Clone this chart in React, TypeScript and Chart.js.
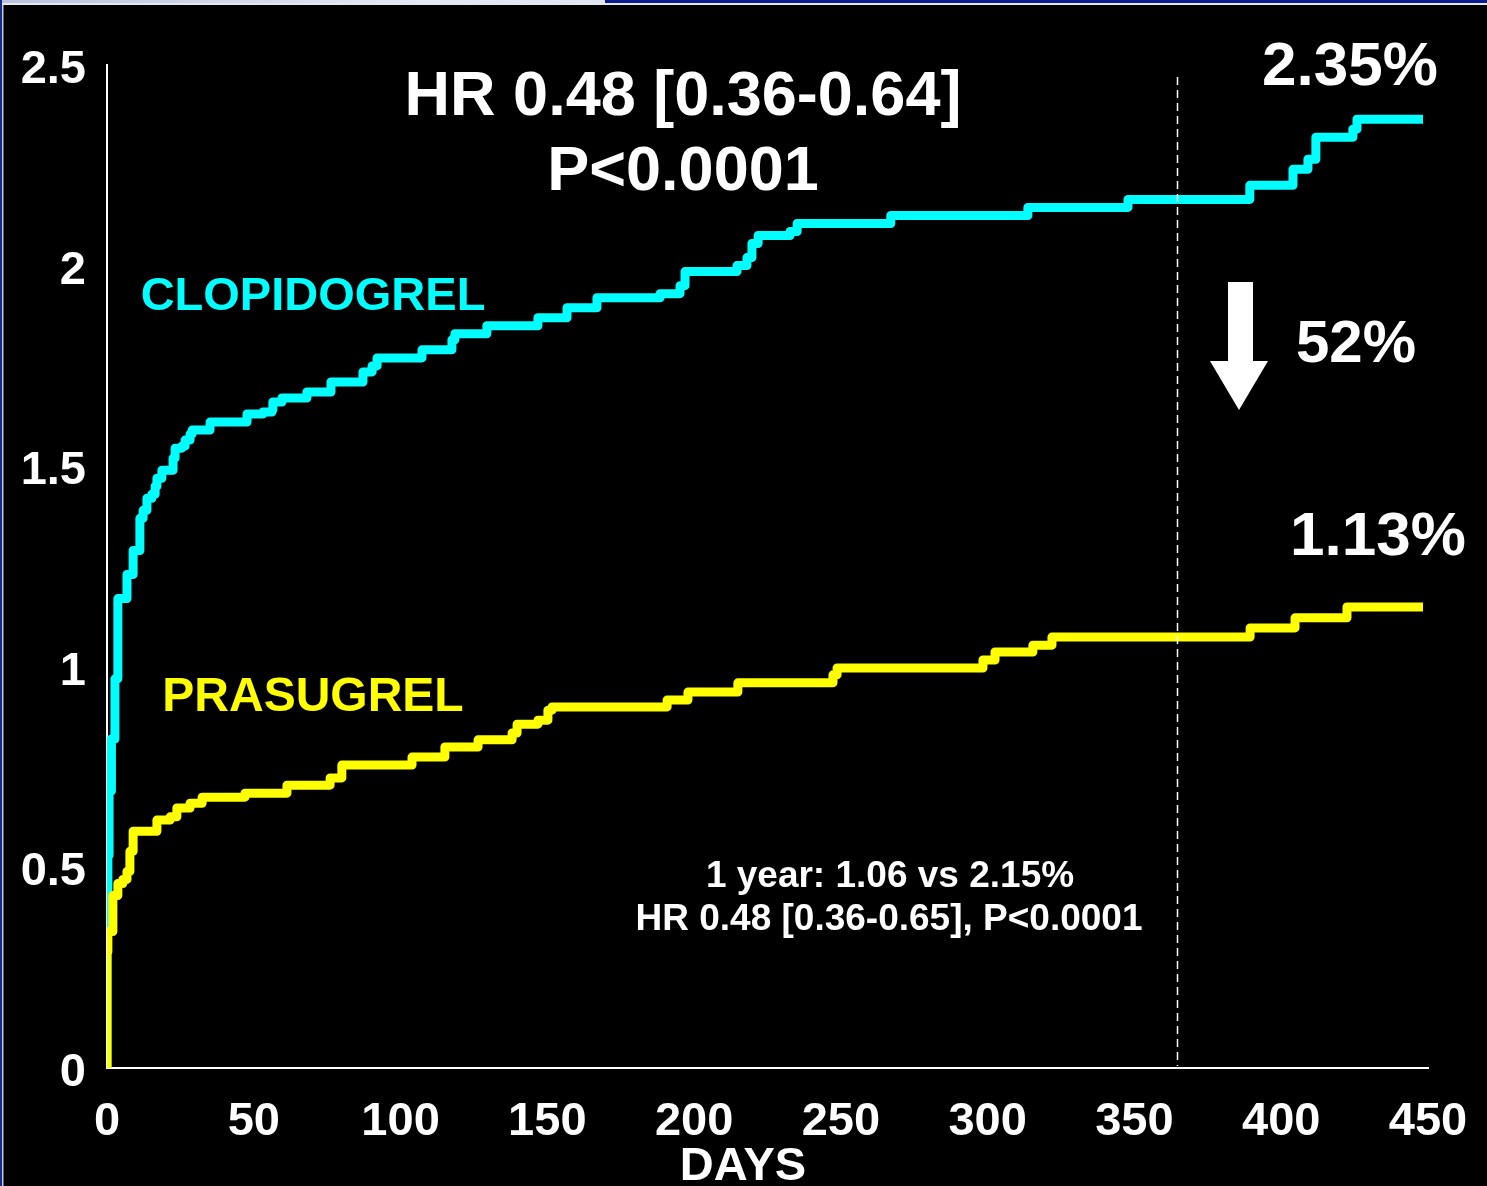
import React, { useEffect, useRef } from 'react';
import { Chart, registerables } from 'chart.js';

Chart.register(...registerables);

// ---- data ----
const clopidogrelDays = [0, 0, 0.3, 0.7, 1.5, 2.7, 3.7, 6.8, 8.9, 11.2, 12.3, 13.6, 15.3, 16.4, 17, 18.7, 22.5, 23.2, 25.5, 26.6, 28.3, 29, 35.1, 47.7, 53.1, 56.2, 56.5, 59.6, 68.1, 76.3, 87.2, 90.3, 92, 107.3, 117.5, 118.5, 129.4, 146.8, 156.7, 166.9, 188.4, 195.2, 196.9, 214.6, 218, 219.7, 221.8, 232.7, 235.1, 267, 313.7, 347.8, 389.3, 404, 409.1, 411.8, 424.4, 425.8, 448.3];
const clopidogrelRates = [0, 0.39, 0.53, 0.69, 0.82, 0.97, 1.17, 1.23, 1.29, 1.37, 1.39, 1.42, 1.43, 1.45, 1.47, 1.49, 1.52, 1.545, 1.55, 1.565, 1.58, 1.59, 1.61, 1.63, 1.635, 1.64, 1.66, 1.67, 1.685, 1.71, 1.735, 1.75, 1.77, 1.79, 1.815, 1.83, 1.85, 1.87, 1.895, 1.92, 1.93, 1.95, 1.985, 2.0, 2.02, 2.055, 2.075, 2.085, 2.105, 2.125, 2.145, 2.165, 2.2, 2.24, 2.265, 2.32, 2.34, 2.365, 2.365];

const prasugrelDays = [0, 0, 0.3, 2, 3.7, 5.4, 6.8, 7.8, 8.9, 17, 21.5, 23.8, 28.3, 32.4, 47, 61.3, 76, 80, 103.9, 115.1, 126.4, 138, 139.7, 146.8, 150.2, 151.6, 190.8, 197.9, 214.9, 247.3, 248.7, 298.4, 302.5, 315.4, 321.9, 389.4, 404.7, 422.4, 448.3];
const prasugrelRates = [0, 0.29, 0.34, 0.43, 0.46, 0.47, 0.49, 0.54, 0.59, 0.618, 0.626, 0.648, 0.66, 0.675, 0.685, 0.705, 0.723, 0.755, 0.775, 0.8, 0.818, 0.835, 0.857, 0.867, 0.892, 0.9, 0.917, 0.937, 0.96, 0.98, 0.997, 1.017, 1.037, 1.054, 1.074, 1.097, 1.122, 1.149, 1.149];

const xTickValues = [0, 50, 100, 150, 200, 250, 300, 350, 400, 450];
const yTickValues = [0, 0.5, 1, 1.5, 2, 2.5];
const yTickLabels = ['0', '0.5', '1', '1.5', '2', '2.5'];
const oneYearDay = 365;

const FONT = "'Liberation Sans', Arial, Helvetica, sans-serif";

const annotationTexts = [
  { text: 'HR 0.48 [0.36-0.64]', x: 683, y: 115, size: 63, color: '#ffffff' },
  { text: 'P<0.0001', x: 683, y: 190, size: 63, color: '#ffffff' },
  { text: '2.35%', x: 1350, y: 85, size: 62, color: '#ffffff' },
  { text: '52%', x: 1356, y: 362, size: 60, color: '#ffffff' },
  { text: '1.13%', x: 1378, y: 555, size: 62, color: '#ffffff' },
  { text: 'CLOPIDOGREL', x: 313, y: 310, size: 47, color: '#00ffff' },
  { text: 'PRASUGREL', x: 313, y: 711, size: 48, color: '#ffff00' },
  { text: '1 year: 1.06 vs 2.15%', x: 890, y: 887, size: 37, color: '#ffffff' },
  { text: 'HR 0.48 [0.36-0.65], P<0.0001', x: 889, y: 930, size: 37, color: '#ffffff' },
  { text: 'DAYS', x: 743, y: 1180, size: 47, color: '#ffffff' },
];

const backgroundPlugin = {
  id: 'bgFrame',
  beforeDraw(chart: any) {
    const { ctx, width, height } = chart;
    ctx.save();
    ctx.fillStyle = '#000000';
    ctx.fillRect(0, 0, width, height);
    // top frame band
    const g = ctx.createLinearGradient(0, 0, 605, 0);
    g.addColorStop(0, '#b9c3de');
    g.addColorStop(0.7, '#e4e9f4');
    g.addColorStop(1, '#dfe5f2');
    ctx.fillStyle = g;
    ctx.fillRect(0, 0, 605, 3);
    ctx.fillStyle = '#0b1b8f';
    ctx.fillRect(605, 0, width - 605, 3);
    ctx.fillStyle = '#e6e8f0';
    ctx.fillRect(0, 3, width, 2);
    // left frame
    ctx.fillStyle = '#1a2a8a';
    ctx.fillRect(0, 0, 2, height);
    ctx.fillStyle = '#c8cadb';
    ctx.fillRect(2, 5, 1.5, height - 5);
    ctx.restore();
  },
};

const annotationPlugin = {
  id: 'annotations',
  afterDatasetsDraw(chart: any) {
    const { ctx } = chart;
    const xs = chart.scales.x;
    const ys = chart.scales.y;
    ctx.save();
    // dashed 1-year line
    const xl = Math.round(xs.getPixelForValue(oneYearDay)) - 0.5;
    ctx.strokeStyle = '#ffffff';
    ctx.lineWidth = 1.5;
    ctx.setLineDash([8, 5]);
    ctx.beginPath();
    ctx.moveTo(xl, ys.getPixelForValue(2.47));
    ctx.lineTo(xl, ys.getPixelForValue(0.005));
    ctx.stroke();
    ctx.setLineDash([]);
    // arrow
    ctx.fillStyle = '#ffffff';
    ctx.fillRect(1228, 282, 25, 80);
    ctx.beginPath();
    ctx.moveTo(1210, 361);
    ctx.lineTo(1268, 361);
    ctx.lineTo(1239, 410);
    ctx.closePath();
    ctx.fill();
    // texts
    ctx.textAlign = 'center';
    ctx.textBaseline = 'alphabetic';
    for (const t of annotationTexts) {
      ctx.font = `bold ${t.size}px ${FONT}`;
      ctx.fillStyle = t.color;
      ctx.fillText(t.text, t.x, t.y);
    }
    ctx.restore();
  },
};

export default function App() {
  const canvasRef = useRef<HTMLCanvasElement | null>(null);

  useEffect(() => {
    document.body.style.margin = '0';
    document.body.style.background = '#000';
    const canvas = canvasRef.current;
    if (!canvas) return;
    const chart = new Chart(canvas, {
      type: 'line',
      data: {
        datasets: [
          {
            label: 'PRASUGREL',
            data: prasugrelDays.map((d, i) => ({ x: d, y: prasugrelRates[i] })),
            borderColor: '#ffff00',
            backgroundColor: '#ffff00',
            borderWidth: 9,
            stepped: 'before',
            pointRadius: 0,
            fill: false,
            borderJoinStyle: 'round',
            borderCapStyle: 'butt',
          },
          {
            label: 'CLOPIDOGREL',
            data: clopidogrelDays.map((d, i) => ({ x: d, y: clopidogrelRates[i] })),
            borderColor: '#00ffff',
            backgroundColor: '#00ffff',
            borderWidth: 9,
            stepped: 'before',
            pointRadius: 0,
            fill: false,
            borderJoinStyle: 'round',
            borderCapStyle: 'butt',
          },
        ],
      },
      options: {
        responsive: false,
        animation: false,
        devicePixelRatio: 1,
        layout: { padding: { left: 0, right: 59, top: 65, bottom: 0 } },
        plugins: {
          legend: { display: false },
          tooltip: { enabled: false },
        },
        scales: {
          x: {
            type: 'linear',
            min: 0,
            max: 450,
            afterBuildTicks: (scale: any) => {
              scale.ticks = xTickValues.map((v) => ({ value: v }));
            },
            grid: { display: false, drawTicks: false },
            border: { display: true, color: '#ffffff', width: 2 },
            ticks: {
              color: '#ffffff',
              font: { family: FONT, size: 47, weight: 'bold' },
              padding: 26,
              maxRotation: 0,
              autoSkip: false,
              callback: (v: any) => String(v),
            },
            afterFit: (scale: any) => {
              scale.height = 118;
              scale.paddingLeft = 0;
              scale.paddingRight = 0;
            },
          },
          y: {
            type: 'linear',
            min: 0,
            max: 2.5,
            afterBuildTicks: (scale: any) => {
              scale.ticks = yTickValues.map((v) => ({ value: v }));
            },
            grid: { display: false, drawTicks: false },
            border: { display: true, color: '#ffffff', width: 2 },
            ticks: {
              color: '#ffffff',
              font: { family: FONT, size: 47, weight: 'bold' },
              padding: 21,
              labelOffset: 5,
              autoSkip: false,
              callback: (v: any) => {
                const i = yTickValues.indexOf(Number(v));
                return i >= 0 ? yTickLabels[i] : '';
              },
            },
            afterFit: (scale: any) => {
              scale.width = 107;
              scale.paddingTop = 0;
              scale.paddingBottom = 0;
            },
          },
        },
      },
      plugins: [backgroundPlugin, annotationPlugin],
    } as any);
    return () => chart.destroy();
  }, []);

  return (
    <div style={{ width: 1487, height: 1186, background: '#000' }}>
      <canvas ref={canvasRef} width={1487} height={1186} style={{ display: 'block' }} />
    </div>
  );
}
